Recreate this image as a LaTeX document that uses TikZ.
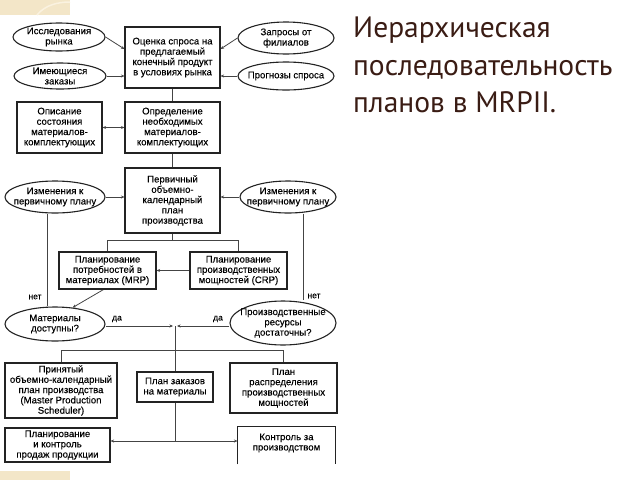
\documentclass[tikz,border=0pt]{standalone}
\usepackage{fontspec}
\setmainfont{Liberation Sans}
\newfontfamily\diagfont[FakeBold=0.2]{Liberation Sans}
\newfontfamily\titlefont{PT Sans}
\usetikzlibrary{shapes.geometric,arrows.meta,calc,backgrounds}
\definecolor{beige}{RGB}{243,230,200}
\definecolor{beigelight}{RGB}{250,242,224}
\definecolor{titlebrown}{RGB}{58,28,20}
\definecolor{ink}{RGB}{35,35,35}
\begin{document}
\begin{tikzpicture}[x=1pt,y=-1pt,
  fs/.style={font=\diagfont\fontsize{9.6}{10.3}\selectfont},
  box/.style={fs, draw=ink, line width=1.1pt, fill=white, align=center, inner sep=0pt},
  ell/.style={draw=ink, line width=1.1pt, fill=white, ellipse, inner sep=0pt},
  etext/.style={fs, align=center, inner sep=0pt},
  con/.style={draw=ink!85, line width=0.8pt},
  arr/.style={con, -{Stealth[length=3.5pt,width=3pt]}},
  darr/.style={con, {Stealth[length=3.5pt,width=3pt]}-{Stealth[length=3.5pt,width=3pt]}},
  lab/.style={font=\diagfont\fontsize{8.5}{9}\selectfont, inner sep=0pt},
  title/.style={font=\titlefont\fontsize{29.5}{30}\selectfont, text=titlebrown, anchor=base west, inner sep=0pt}]

\useasboundingbox (0,0) rectangle (640,480);

% decorations
\fill[beige] (0,0) rectangle (70,15);
\draw[beigelight, line width=1.5pt] (37,15) .. controls (45,5) and (58,2) .. (70,2);
\fill[beige] (0,471) rectangle (70,480);

% title
\node[title] (t1) at (353,37) {Иерархическая};
\node[title] (t2) at (353,75) {последовательность};
\node[title] (t3) at (353,112) {планов в MRPII.};

% row 1
\node[ell, minimum width=92pt, minimum height=28pt] (n1) at (59,37) {};
\node[etext] (n1t) at (n1) {Исследования\\рынка};
\node[ell, minimum width=92pt, minimum height=26pt] (n2) at (60,76) {};
\node[etext] (n2t) at (n2) {Имеющиеся\\заказы};
\node[box, minimum width=95pt, minimum height=61pt] (n3) at (172.5,57.5) {Оценка спроса на\\предлагаемый\\конечный продукт\\в условиях рынка};
\node[ell, minimum width=96pt, minimum height=32pt] (n4) at (286,38) {};
\node[etext] (n4t) at (n4) {Запросы от\\филиалов};
\node[ell, minimum width=96pt, minimum height=28pt] (n5) at (286,76) {};
\node[etext] (n5t) at (n5) {Прогнозы спроса};

% row 2
\node[box, minimum width=85pt, minimum height=51pt] (n6) at (59.5,127.5) {Описание\\состояния\\материалов-\\комплектующих};
\node[box, minimum width=95pt, minimum height=51pt] (n7) at (172.5,127.5) {Определение\\необходимых\\материалов-\\комплектующих};

% row 3
\node[box, minimum width=95pt, minimum height=65pt] (n8) at (172.5,200.5) {Первичный\\объемно-\\календарный\\план\\производства};
\node[ell, minimum width=100pt, minimum height=32pt] (n9) at (55,197) {};
\node[etext] (n9t) at (n9) {Изменения к\\первичному плану};
\node[ell, minimum width=96pt, minimum height=32pt] (n10) at (288,197) {};
\node[etext] (n10t) at (n10) {Изменения к\\первичному плану};

% row 4
\node[box, minimum width=97pt, minimum height=37pt] (n11) at (107.5,270.5) {Планирование\\потребностей в\\материалах (MRP)};
\node[box, minimum width=97pt, minimum height=37pt] (n12) at (238.5,270.5) {Планирование\\производственных\\мощностей (CRP)};

% row 5
\node[ell, minimum width=100pt, minimum height=34pt] (n13) at (55,324) {};
\node[etext] (n13t) at (n13) {Материалы\\доступны?};
\node[ell, minimum width=106pt, minimum height=44pt] (n14) at (283,323) {};
\node[etext] (n14t) at (n14) {Производственные\\ресурсы\\достаточны?};

% row 6
\node[box, minimum width=112pt, minimum height=55pt] (n15) at (61,390.5) {Принятый\\объемно-календарный\\план производства\\(Master Production\\Scheduler)};
\node[box, minimum width=76pt, minimum height=30pt] (n16) at (175,387) {План заказов\\на материалы};
\node[box, minimum width=107pt, minimum height=50pt] (n17) at (283.5,388) {План\\распределения\\производственных\\мощностей};

% row 7
\node[box, minimum width=105pt, minimum height=34pt] (n18) at (57.5,445) {Планирование\\и контроль\\продаж продукции};
\node[box, draw=none, fill=none, minimum width=97pt, minimum height=32pt] (n19) at (286.5,443) {Контроль за\\производством};
\draw[ink, line width=1.1pt] ($(n19.north west)+(0,38)$) -- (n19.north west) -- (n19.north east) -- ($(n19.north east)+(0,38)$);

% helper coordinates
\coordinate (jA) at (172.5,240);
\coordinate (j1) at (175,326);
\coordinate (j1l) at (173,326);
\coordinate (j1r) at (177,326);
\coordinate (j2) at (175,350);
\coordinate (j3) at (175,441);
\coordinate (vl) at (47,0);
\coordinate (vr) at (303,0);

\begin{scope}[on background layer]
\draw[arr] (n1.east) -- (n3.170);
\draw[arr] (n2.east) -- (n3.west |- n2.east);
\draw[arr] (n4.west) -- (n3.10);
\draw[arr] (n5.west) -- (n3.east |- n5.west);
\draw[con] (n3.south) -- (n7.north);
\draw[darr] (n6.east) -- (n7.west);
\draw[con] (n7.south) -- (n8.north);
\draw[arr] (n9.east) -- (n8.west |- n9.east);
\draw[arr] (n10.west) -- (n8.east |- n10.west);
\draw[con] (n8.south) -- (jA) -| (n11.north);
\draw[con] (jA) -| (n12.north);
\draw[arr] (n12.west) -- (n11.east);
\draw[arr] ($(n11.south)+(-4,0)$) -- (n13.43);
\draw[con] (n9.south -| vl) -- (n13.north -| vl);
\draw[con] (n10.south -| vr) -- (n14.north -| vr);
\draw[arr] (n13.east |- j1) -- (j1l);
\draw[arr] (n14.west |- j1) -- (j1r);
\draw[con] (j1) -- (j2);
\draw[con] (j2) -| (n15.north);
\draw[con] (j2) -- (n16.north);
\draw[con] (j2) -| (n17.north);
\draw[con] (n16.south) -- (j3);
\draw[arr] (j3) -- (n18.east |- j3);
\draw[arr] (j3) -- (n19.west |- j3);
\end{scope}

% labels
\node[lab] (l1) at (35,297) {нет};
\node[lab] (l2) at (314,296) {нет};
\node[lab] (l3) at (117,319) {да};
\node[lab] (l4) at (218,319) {да};
\end{tikzpicture}
\end{document}
